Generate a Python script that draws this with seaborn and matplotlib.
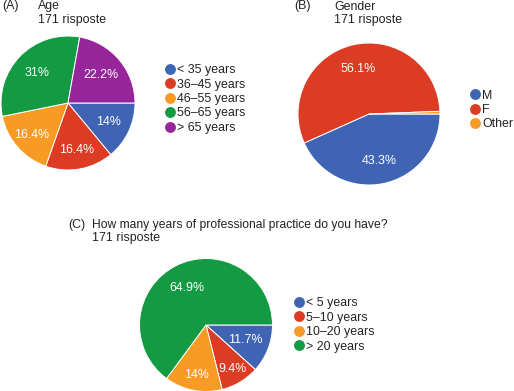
import matplotlib
matplotlib.use('Agg')
import numpy as np
import matplotlib.pyplot as plt
from matplotlib.lines import Line2D
import seaborn as sns

# data
age_labels = ['< 35 years', '36\u201345 years', '46\u201355 years', '56\u201365 years', '> 65 years']
age_pct = [14, 16.4, 16.4, 31, 22.2]

gender_labels = ['M', 'F', 'Other']
gender_pct = [43.3, 56.1, 0.6]

practice_labels = ['< 5 years', '5\u201310 years', '10\u201320 years', '> 20 years']
practice_pct = [11.7, 9.4, 14, 64.9]

# google-forms style colours
blue, red, orange, green, purple = '#3e64b3', '#dc3c24', '#f89b25', '#149a43', '#962699'

sns.set_theme(style='white')
plt.rcParams['font.family'] = ['Liberation Sans', 'DejaVu Sans']

W, H = 514, 391
fig = plt.figure(figsize=(W / 100, H / 100), dpi=100)
FS = 8.9


def pct_label(p):
    if p < 5:
        return ''
    return f"{round(p, 1):g}%"


def draw_pie(cx, cy, r, values, colors, label_dist):
    ax = fig.add_axes([(cx - r) / W, 1 - (cy + r) / H, 2 * r / W, 2 * r / H])
    wedges, _, autotexts = ax.pie(
        values, colors=colors, startangle=0, counterclock=False,
        autopct=pct_label, pctdistance=0.65,
        wedgeprops={'edgecolor': 'white', 'linewidth': 0.7},
        textprops={'color': 'white', 'fontsize': FS})
    # google puts the labels of the small slices a bit further out
    for w, t, d in zip(wedges, autotexts, label_dist):
        ang = np.deg2rad((w.theta1 + w.theta2) / 2)
        t.set_position((d * np.cos(ang), d * np.sin(ang)))
    ax.set_xlim(-1, 1)
    ax.set_ylim(-1, 1)
    ax.set_aspect('equal')
    ax.axis('off')
    return ax


def add_legend(x_left, y_mid, labels, colors):
    handles = [Line2D([], [], marker='o', linestyle='', markersize=6.8,
                      markerfacecolor=c, markeredgecolor=c) for c in colors]
    fig.legend(handles, labels, loc='center left',
               bbox_to_anchor=(x_left / W, 1 - y_mid / H),
               frameon=False, fontsize=FS, handlelength=0.8,
               handletextpad=0.2, labelspacing=0.2, borderpad=0,
               borderaxespad=0, labelcolor='#222222')


def add_title(x_tag, x_text, y_base, tag, title, size=FS):
    fig.text(x_tag / W, 1 - y_base / H, tag, fontsize=FS, color='#222222', va='baseline')
    fig.text(x_text / W, 1 - y_base / H, title, fontsize=size, color='#222222', va='baseline')
    fig.text(x_text / W, 1 - (y_base + 13.5) / H, '171 risposte', fontsize=FS,
             color='#222222', va='baseline')


# (A) Age
add_title(2, 38, 9.5, '(A)', 'Age')
draw_pie(68, 103, 67, age_pct, [blue, red, orange, green, purple],
         [0.66, 0.72, 0.72, 0.65, 0.65])
add_legend(165, 99, age_labels, [blue, red, orange, green, purple])

# (B) Gender
add_title(294, 334, 9.5, '(B)', 'Gender')
draw_pie(369, 114, 71, gender_pct, [blue, red, orange], [0.68, 0.65, 0.65])
add_legend(470, 110, gender_labels, [blue, red, orange])

# (C) Years of practice
add_title(68, 92, 228, '(C)', 'How many years of professional practice do you have?', size=8.7)
draw_pie(206, 325, 66.5, practice_pct, [blue, red, orange, green],
         [0.63, 0.77, 0.76, 0.62])
add_legend(294, 325, practice_labels, [blue, red, orange, green])

fig.savefig('out.png', dpi=100)
